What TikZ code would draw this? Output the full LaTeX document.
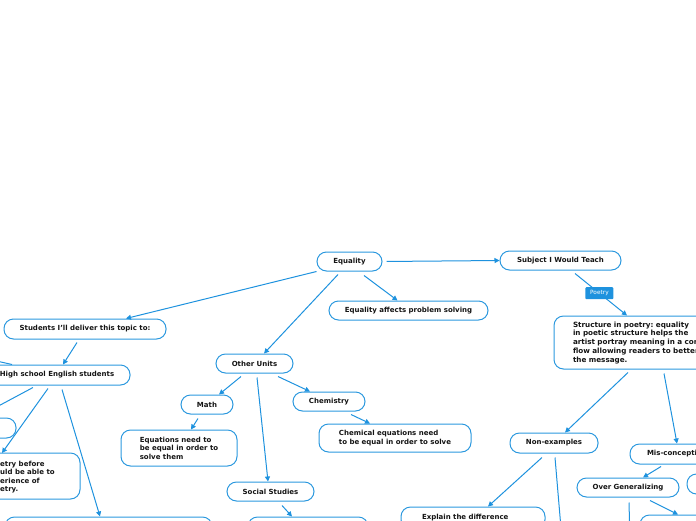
\documentclass[tikz,border=0pt]{standalone}
\usepackage{fontspec}
\setmainfont{DejaVu Sans}
\usetikzlibrary{arrows.meta}
\frenchspacing
\definecolor{bblue}{RGB}{43,152,222}
\definecolor{lblue}{RGB}{30,146,222}
\definecolor{txt}{RGB}{20,20,20}
\tikzset{
  box/.style={draw=bblue, line width=1pt, rounded corners=9.5pt, inner sep=0pt,
    font=\fontsize{7}{8.4}\selectfont\bfseries, text=txt, align=center},
  plain/.style={inner sep=0pt, font=\fontsize{7}{8.4}\selectfont\bfseries, text=txt, align=left},
  conn/.style={draw=lblue, line width=1pt, -{Triangle[length=5pt,width=5pt]}},
  tag/.style={fill=lblue, rounded corners=1pt, inner sep=0pt, minimum width=28pt, minimum height=12pt,
    text=white, font=\fontsize{5.8}{6}\selectfont}
}
\begin{document}
\begin{tikzpicture}[x=1pt,y=-1pt]
\useasboundingbox (0,0) rectangle (696,520);
% nodes
\node[box, minimum width=65pt, minimum height=19pt] (eq) at (349.5,261.5) {Equality};
\node[box, minimum width=121pt, minimum height=19pt] (subj) at (560.5,260.5) {Subject I Would Teach};
\node[box, minimum width=159pt, minimum height=19pt] (aff) at (408.5,310.5) {Equality affects problem solving};
\node[box, minimum width=162pt, minimum height=20pt] (stu) at (85,329) {Students I'll deliver this topic to:};
\node[box, minimum width=146pt, minimum height=20pt] (hs) at (57,375) {High school English students};
\node[box, minimum width=106pt, minimum height=20pt] (lb6) at (-37,428) {};
\node[box, minimum width=200pt, minimum height=46pt] (lb7) at (-20,476) {};
\node[plain, anchor=west] (lb7t) at (0,477) {etry before\\uld be able to\\erience of\\etry.};
\node[box, minimum width=207pt, minimum height=43pt] (lb8) at (108.5,538.5) {};
\node[box, minimum width=77pt, minimum height=19pt] (oth) at (254.5,363.5) {Other Units};
\node[box, minimum width=52pt, minimum height=19pt] (math) at (207,404.5) {Math};
\node[box, minimum width=72pt, minimum height=19pt] (chem) at (329,401.5) {Chemistry};
\node[box, minimum width=116pt, minimum height=36pt, align=left] (eqn) at (179,448) {Equations need to\\be equal in order to\\solve them};
\node[box, minimum width=152pt, minimum height=28pt, align=left] (ceq) at (395,438) {Chemical equations need\\to be equal in order to solve};
\node[box, minimum width=87pt, minimum height=19pt] (soc) at (270.5,491.5) {Social Studies};
\node[box, minimum width=120pt, minimum height=43pt] (ssb) at (308,538.5) {};
\node[box, minimum width=206pt, minimum height=53pt, align=left, text width=168pt, font=\fontsize{7.2}{8.8}\selectfont\bfseries] (str) at (657,342.5) {\rule{0pt}{6pt}Structure in poetry: equality\\in poetic structure helps the\\artist portray meaning in a cons\\flow allowing readers to better\\the message.};
\node[box, minimum width=88pt, minimum height=20pt] (non) at (554,443) {Non-examples};
\node[box, minimum width=104pt, minimum height=20pt] (mis) at (682,454) {\hspace*{-6pt}Mis-conceptions};
\node[box, minimum width=93pt, minimum height=20pt] (rb20) at (733.5,484) {};
\node[box, minimum width=102pt, minimum height=19pt] (ovr) at (628,487.5) {Over Generalizing};
\node[box, minimum width=144pt, minimum height=22pt, align=left, text width=102pt] (exp) at (473,518) {Explain the difference};
\node[box, minimum width=120pt, minimum height=30pt] (b23) at (700,530) {};
\coordinate (offA) at (-30,355);
\coordinate (offB) at (-24,418);
\coordinate (offC) at (562,540);
\coordinate (offD) at (630,540);
% connectors
\draw[conn, shorten <=4pt] (eq.east) -- (subj.west);
\draw[conn] (eq.south west) -- ([xshift=41pt]stu.north);
\draw[conn] ([xshift=14.5pt,yshift=-4pt]eq.south) -- ([xshift=-11pt]aff.north);
\draw[conn] ([xshift=-11.5pt,yshift=-3pt]eq.south) -- ([xshift=9.5pt]oth.north);
\draw[conn] ([xshift=14.5pt,yshift=-3pt]subj.south) -- node[tag, pos=0.47] (poetry) {Poetry} ([xshift=-30pt]str.north);
\draw[conn] ([xshift=-8pt,yshift=-3pt]stu.south) -- ([xshift=6pt]hs.north);
\draw[conn] ([xshift=-45pt]hs.north) -- (offA);
\draw[conn] ([xshift=-24pt,yshift=-2pt]hs.south) -- (offB);
\draw[conn] ([xshift=-9pt,yshift=-3pt]hs.south) -- (2,453);
\draw[conn] ([xshift=5pt,yshift=-4pt]hs.south) -- ([xshift=-8.5pt]lb8.north);
\draw[conn] ([xshift=-13.5pt,yshift=-3pt]oth.south) -- ([xshift=12pt]math.north);
\draw[conn] ([xshift=23.5pt,yshift=-3pt]oth.south) -- ([xshift=-19pt]chem.north);
\draw[conn] ([xshift=2.5pt,yshift=-4pt]oth.south) -- ([xshift=-2.5pt]soc.north);
\draw[conn] ([xshift=-9pt,yshift=-4pt]math.south) -- ([xshift=12pt]eqn.north);
\draw[conn] ([xshift=22pt,yshift=-3pt]chem.south) -- ([xshift=-25pt]ceq.north);
\draw[conn] ([xshift=11.5pt,yshift=-4pt]soc.south) -- ([xshift=-16pt]ssb.north);
\draw[conn] ([xshift=-29pt,yshift=-3pt]str.south) -- ([xshift=11pt]non.north);
\draw[conn] ([xshift=7pt,yshift=-4pt]str.south) -- ([xshift=-5pt]mis.north);
\draw[conn] ([xshift=-12pt,yshift=-4pt]non.south) -- ([xshift=15pt]exp.north);
\draw[conn] ([xshift=1pt,yshift=-4pt]non.south) -- (offC);
\draw[conn] ([xshift=-21pt,yshift=-2pt]mis.south) -- ([xshift=15pt]ovr.north);
\draw[conn] ([xshift=22pt,yshift=-3pt]ovr.south) -- ([xshift=-22pt]b23.north);
\draw[conn] ([xshift=1pt,yshift=-5pt]ovr.south) -- (offD);
\end{tikzpicture}
\end{document}
